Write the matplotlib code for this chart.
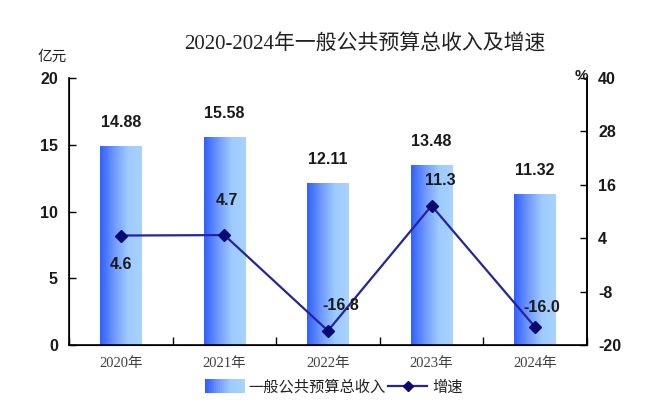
import matplotlib
matplotlib.use("Agg")
import matplotlib.pyplot as plt
import numpy as np
from matplotlib.colors import LinearSegmentedColormap
from matplotlib.lines import Line2D
from matplotlib.patches import Rectangle
from matplotlib.legend_handler import HandlerBase

plt.rcParams["axes.unicode_minus"] = False

years = ["2020年", "2021年", "2022年", "2023年", "2024年"]
revenue = [14.88, 15.58, 12.11, 13.48, 11.32]
growth = [4.6, 4.7, -16.8, 11.3, -16.0]
growth_labels = ["4.6", "4.7", "-16.8", "11.3", "-16.0"]

cjk = ["Liberation Serif", "Noto Sans CJK SC"]
bold = dict(family="Liberation Sans", fontweight="bold", fontsize=11.5, color="#1a1a1a")

grad = LinearSegmentedColormap.from_list("g", ["#3060ff", "#6f98ff", "#9ecbff", "#a8d2ff"])

fig = plt.figure(figsize=(6.67, 4.15), dpi=100)
ax = fig.add_axes([0.1034, 0.1687, 0.7766, 0.6433])
x = np.arange(len(years))
bars = ax.bar(x, revenue, width=0.4, color="none", edgecolor="none", zorder=2)
g = np.linspace(0, 1, 100).reshape(1, -1)
for b in bars:
    x0, w, h = b.get_x(), b.get_width(), b.get_height()
    im = ax.imshow(g, cmap=grad, aspect="auto", extent=[x0, x0 + w, 0, h], zorder=2)
    im.set_clip_path(b)

ax.set_xlim(-0.5, len(years) - 0.5)
ax.set_ylim(0, 20)
ax.set_yticks([0, 5, 10, 15, 20])
ax.set_xticks(x)
ax.set_xticklabels(years, family=cjk, fontsize=10.5, color="#404040")
ax.set_xticks(np.arange(-0.5, len(years)), minor=True)
ax.tick_params(axis="x", which="major", length=0, pad=9)
ax.tick_params(axis="x", which="minor", direction="in", length=6, width=1)
ax.tick_params(axis="y", direction="in", length=5, width=1, pad=8)
for t in ax.get_yticklabels():
    t.set(**bold)
ax.spines["top"].set_visible(False)
for s in ["left", "bottom", "right"]:
    ax.spines[s].set_linewidth(1.2)

for xi, v in zip(x, revenue):
    ax.annotate(f"{v:.2f}", (xi, v), xytext=(0, 17), textcoords="offset points",
                ha="center", va="center", **bold)

ax2 = ax.twinx()
ax2.set_ylim(-20, 40)
ax2.set_yticks([-20, -8, 4, 16, 28, 40])
ax2.tick_params(axis="y", direction="in", length=5, width=1, pad=8)
for t in ax2.get_yticklabels():
    t.set(**bold)
ax2.spines["top"].set_visible(False)
ax2.spines["right"].set_linewidth(1.2)
ax2.plot(x, growth, color="#25259a", lw=1.6, marker="D", ms=6,
         mfc="#0a0a70", mec="#0a0a70", zorder=3)

# label placement relative to each point, in points
line_dx = [0, 2, 9, 6, 5]
line_dy = [-21, 25, 18, 18, 14]
for xi, v, lab, dx, dy in zip(x, growth, growth_labels, line_dx, line_dy):
    ax2.annotate(lab, (xi, v), xytext=(dx, dy), textcoords="offset points",
                 ha="center", va="center", **bold)

fig.text(0.547, 0.895, "2020-2024年一般公共预算总收入及增速", ha="center", va="center",
         family=cjk, fontsize=15, color="#222222")
fig.text(0.078, 0.862, "亿元", ha="center", va="center", family=["Noto Sans CJK SC"],
         fontsize=10.5, color="#222222")
fig.text(0.872, 0.818, "%", ha="center", va="center", family="Liberation Sans",
         fontweight="bold", fontsize=11, color="#1a1a1a")


class GradHandler(HandlerBase):
    def create_artists(self, legend, orig, xd, yd, width, height, fontsize, trans):
        arts = []
        n = 20
        for i in range(n):
            r = Rectangle((xd + width * i / n, yd - 1), width / n + 0.3, height + 2,
                          facecolor=grad(i / (n - 1)), edgecolor="none", transform=trans)
            arts.append(r)
        return arts


proxy_bar = Rectangle((0, 0), 1, 1)
proxy_line = Line2D([], [], color="#25259a", lw=1.6, marker="D", ms=5,
                    mfc="#0a0a70", mec="#0a0a70")
leg = fig.legend([proxy_bar, proxy_line], ["一般公共预算总收入", "增速"],
                 handler_map={Rectangle: GradHandler()},
                 loc="center", bbox_to_anchor=(0.5, 0.068), ncol=2, frameon=False,
                 prop={"family": ["Noto Sans CJK SC"], "size": 11},
                 handlelength=2.6, handletextpad=0.3, columnspacing=0.1)
for t in leg.get_texts():
    t.set_color("#222222")

fig.savefig("out.png", dpi=100)
